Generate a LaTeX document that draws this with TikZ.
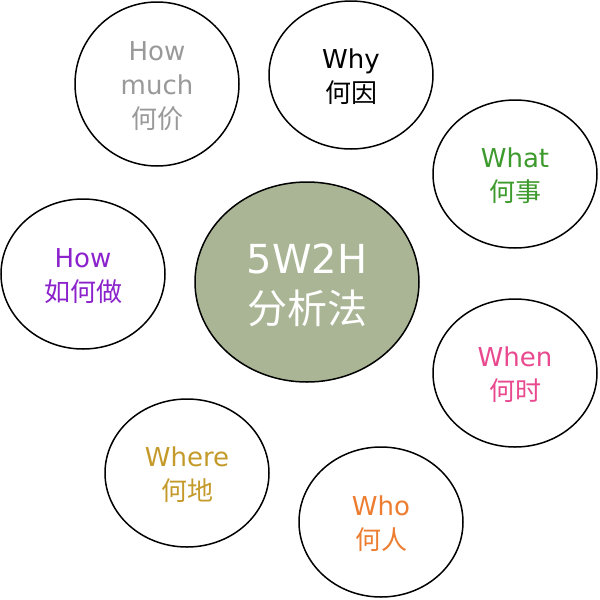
\documentclass[tikz,border=0pt]{standalone}
\usepackage{fontspec}
\setmainfont{DejaVu Sans}
\newfontfamily\cjk{Noto Sans CJK SC}
\usetikzlibrary{shapes.geometric}
\definecolor{centerfill}{HTML}{A9B594}
\definecolor{cmuch}{HTML}{999999}
\definecolor{cwhat}{HTML}{3D9A2C}
\definecolor{chow}{HTML}{8B22CC}
\definecolor{cwhen}{HTML}{E8498F}
\definecolor{cwhere}{HTML}{C49A2A}
\definecolor{cwho}{HTML}{ED7D31}
\tikzset{
  bubble/.style={ellipse, draw=black, line width=1.5pt, fill=white, inner sep=0pt,
    minimum width=164pt, minimum height=148pt, align=center,
    font=\fontsize{26}{34}\selectfont},
  hub/.style={ellipse, draw=black, line width=1.5pt, fill=centerfill, inner sep=0pt,
    minimum width=224pt, minimum height=200pt, align=center, text=white,
    font=\fontsize{40}{50}\selectfont}
}
\begin{document}
\begin{tikzpicture}[x=1pt,y=-1pt]
\useasboundingbox (0,0) rectangle (600,600);
\node[hub] (c) at (307,282) {\rule{0pt}{36pt}5W2H\\{\cjk 分析法}};
\node[bubble, minimum height=164pt, text=cmuch] (much) at (157,84) {\rule{0pt}{23pt}How\\much\\{\cjk 何价}};
\node[bubble, text=black] (why) at (351,75) {\rule{0pt}{23pt}Why\\{\cjk 何因}};
\node[bubble, text=cwhat] (what) at (515,174) {\rule{0pt}{23pt}What\\{\cjk 何事}};
\node[bubble, minimum height=150pt, text=chow] (how) at (83,274) {\rule{0pt}{23pt}How\\{\cjk 如何做}};
\node[bubble, text=cwhen] (when) at (515,373) {\rule{0pt}{23pt}When\\{\cjk 何时}};
\node[bubble, text=cwhere] (where) at (187,473) {\rule{0pt}{23pt}Where\\{\cjk 何地}};
\node[bubble, minimum height=150pt, text=cwho] (who) at (381,522) {\rule{0pt}{23pt}Who\\{\cjk 何人}};
\end{tikzpicture}
\end{document}
